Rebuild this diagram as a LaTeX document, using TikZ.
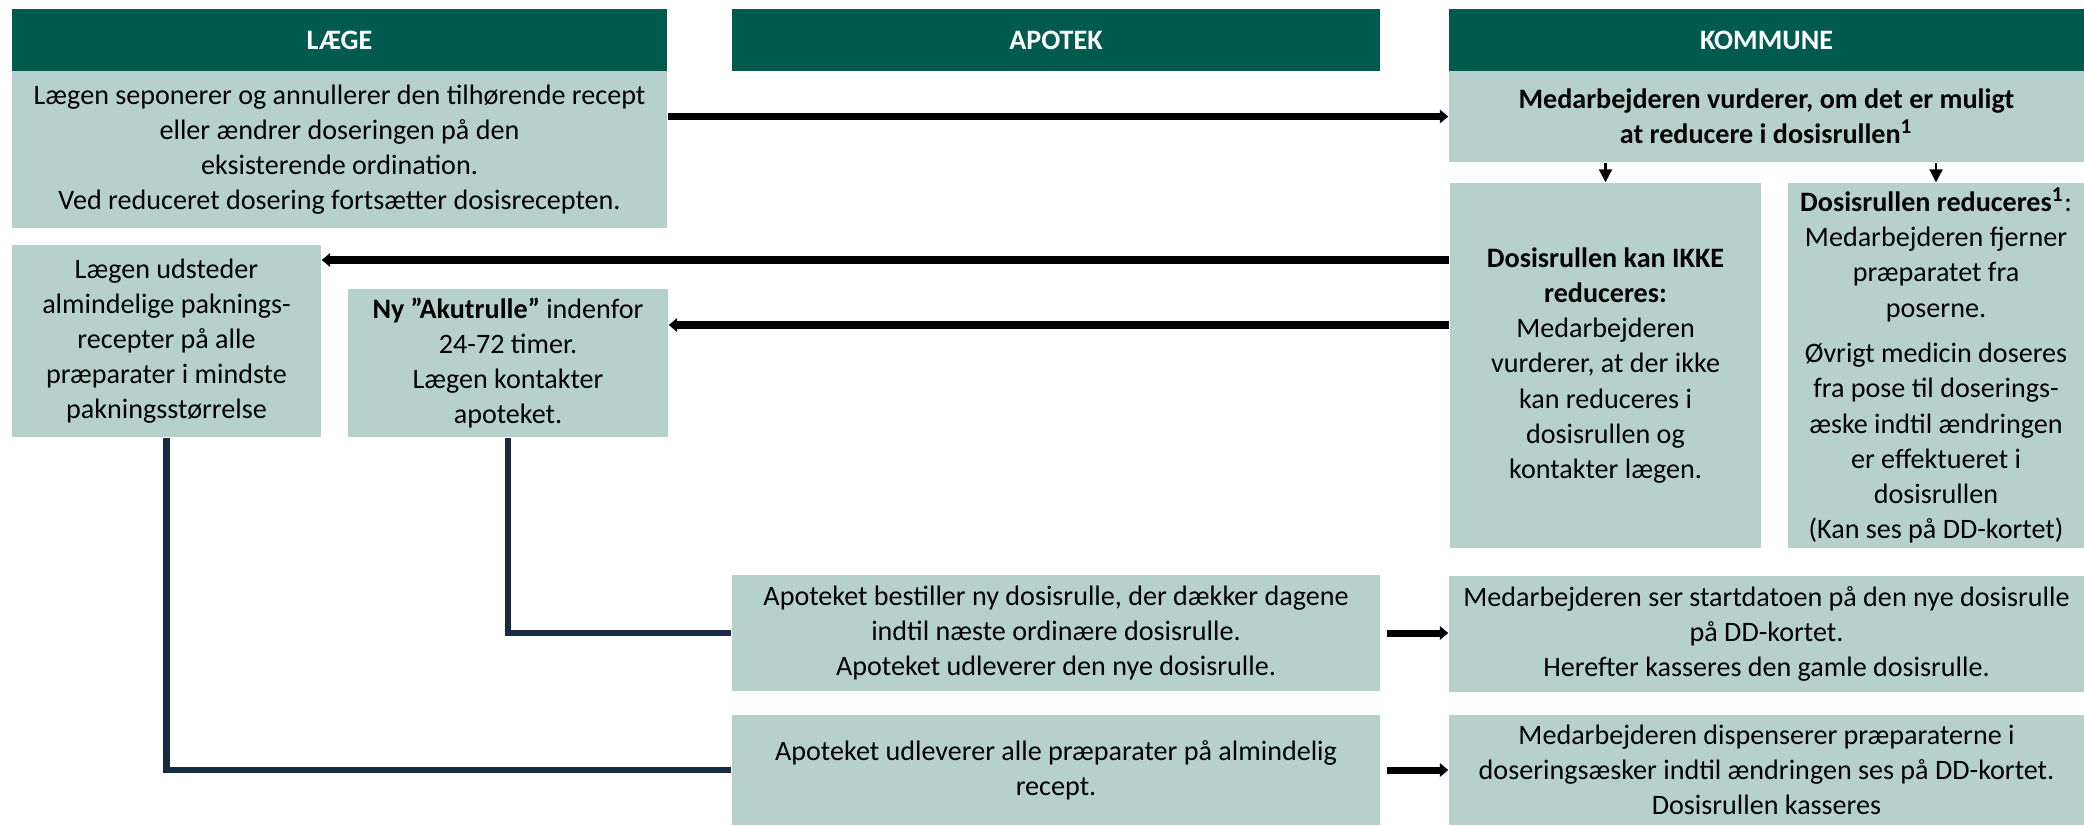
\documentclass[tikz,border=0pt]{standalone}
\usepackage{fontspec}
\setmainfont{Carlito}
\usepackage{tikz}
\usetikzlibrary{arrows.meta}
\usetikzlibrary{positioning}
\definecolor{lanegreen}{RGB}{0,91,79}
\definecolor{boxgreen}{RGB}{182,209,204}
\definecolor{linknavy}{RGB}{23,43,66}
\tikzset{%
  box/.style={fill=boxgreen, inner sep=0pt, align=center, font=\fontsize{8}{10}\selectfont},
  lane head/.style={box, fill=lanegreen, text=white, font=\fontsize{8}{10}\selectfont\bfseries, minimum height=0.62cm},
  flow arrow/.style={line width=2pt, -{Triangle[width=3.8pt, length=2.4pt]}},
  down arrow/.style={line width=0.6pt, -{Triangle[width=3.7pt, length=3.7pt]}},
  link/.style={linknavy, line width=1.9pt}
}

\begin{document}
\begin{tikzpicture}
      % \draw[step=1cm, gray, very thin] (0, -8.25) grid (20.84, 0);
      \useasboundingbox (0, 0) rectangle (20.84, -8.25);

      \node[lane head, minimum width=6.55cm] (hlaege) at (3.395, -0.40) {LÆGE};
      \node[lane head, minimum width=6.48cm] (hapotek) at (10.56, -0.40) {APOTEK};
      \node[lane head, minimum width=6.35cm] (hkommune) at (17.665, -0.40) {KOMMUNE};

      \node[box, minimum width=6.55cm, minimum height=1.57cm] (lg1) at (3.395, -1.495)
        {Lægen seponerer og annullerer den tilhørende recept\\ eller ændrer doseringen på den\\ eksisterende ordination.\\ Ved reduceret dosering fortsætter dosisrecepten.};
      \node[box, minimum width=6.35cm, minimum height=0.91cm] (kom1) at (17.665, -1.165)
        {\textbf{Medarbejderen vurderer, om det er muligt}\\ \textbf{at reducere i dosisrullen\textsuperscript{1}}};

      \node[box, minimum width=3.11cm, minimum height=3.65cm] (ikke) at (16.055, -3.655)
        {\textbf{Dosisrullen kan IKKE}\\ \textbf{reduceres:}\\ Medarbejderen\\ vurderer, at der ikke\\ kan reduceres i\\ dosisrullen og\\ kontakter lægen.};
      \node[box, minimum width=2.96cm, minimum height=3.65cm] (redu) at (19.36, -3.655)
        {\textbf{Dosisrullen reduceres\textsuperscript{1}}:\\ Medarbejderen fjerner\\ præparatet fra\\ poserne.\\[3pt] Øvrigt medicin doseres\\ fra pose til doserings-\\ æske indtil ændringen\\ er effektueret i\\ dosisrullen\\ (Kan ses på DD-kortet)};

      \node[box, minimum width=3.09cm, minimum height=1.92cm] (udst) at (1.665, -3.41)
        {Lægen udsteder\\ almindelige paknings-\\ recepter på alle\\ præparater i mindste\\ pakningsstørrelse};
      \node[box, minimum width=3.20cm, minimum height=1.48cm] (akut) at (5.08, -3.63)
        {\textbf{Ny ”Akutrulle”} indenfor\\ 24-72 timer.\\ Lægen kontakter\\ apoteket.};

      \node[box, minimum width=6.48cm, minimum height=1.16cm] (best) at (10.56, -6.33)
        {Apoteket bestiller ny dosisrulle, der dækker dagene\\ indtil næste ordinære dosisrulle.\\ Apoteket udleverer den nye dosisrulle.};
      \node[box, minimum width=6.48cm, minimum height=1.10cm] (udlev) at (10.56, -7.70)
        {Apoteket udleverer alle præparater på almindelig\\ recept.};
      \node[box, minimum width=6.35cm, minimum height=1.16cm] (ser) at (17.665, -6.34)
        {Medarbejderen ser startdatoen på den nye dosisrulle\\ på DD-kortet.\\ Herefter kasseres den gamle dosisrulle.};
      \node[box, minimum width=6.35cm, minimum height=1.10cm] (disp) at (17.665, -7.70)
        {Medarbejderen dispenserer præparaterne i\\ doseringsæsker indtil ændringen ses på DD-kortet.\\ Dosisrullen kasseres};

      \draw[flow arrow] (lg1.east |- kom1.west) -- (kom1.west);
      \draw[down arrow] (ikke.north |- kom1.south) -- (ikke.north);
      \draw[down arrow] (redu.north |- kom1.south) -- (redu.north);
      \draw[flow arrow] ([yshift=1.055cm]ikke.west) -- ([yshift=1.055cm]ikke.west -| udst.east);
      \draw[flow arrow] ([yshift=0.405cm]ikke.west) -- ([yshift=0.405cm]ikke.west -| akut.east);

      \draw[link] (akut.south) |- (best.west);
      \draw[link] (udst.south) |- (udlev.west);

      \draw[flow arrow, shorten <=0.06cm] (best.east) -- (best.east -| ser.west);
      \draw[flow arrow, shorten <=0.06cm] (udlev.east) -- (disp.west);
\end{tikzpicture}
\end{document}
